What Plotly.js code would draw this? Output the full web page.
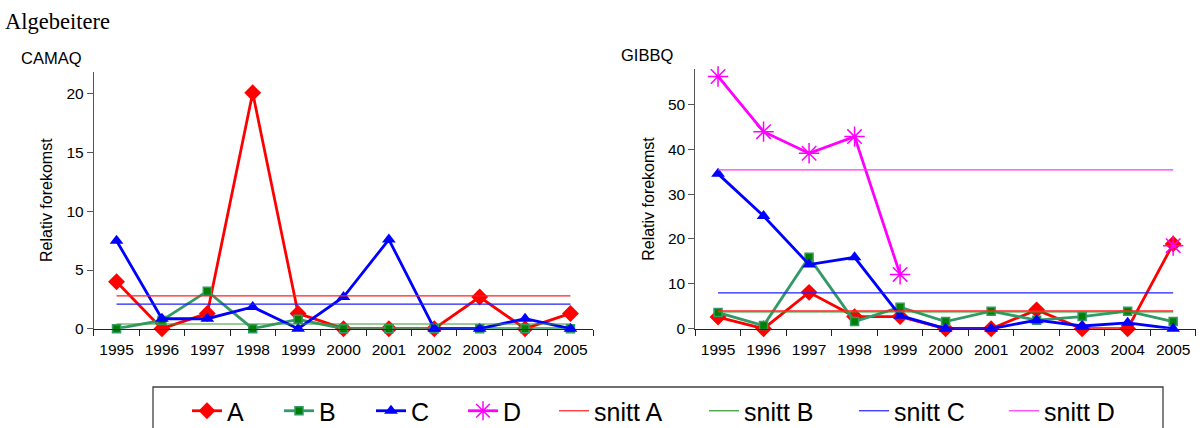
<!DOCTYPE html>
<html>
<head>
<meta charset="utf-8">
<script src="https://cdn.plot.ly/plotly-3.0.1.min.js"></script>
<style>html,body{margin:0;padding:0;background:#fff;}#chart{width:1200px;height:428px;}</style>
</head>
<body>
<div id="chart"></div>
<script>
// ---- data ----
const years = ['1995','1996','1997','1998','1999','2000','2001','2002','2003','2004','2005'];

// CAMAQ panel
const camaqA = [4.0, 0, 1.3, 20.1, 1.3, 0, 0, 0, 2.7, 0, 1.3];
const camaqB = [0, 0.7, 3.2, 0, 0.8, 0, 0, 0, 0, 0, 0];
const camaqC = [7.5, 0.85, 0.85, 1.85, 0, 2.7, 7.6, 0, 0, 0.85, 0];
const camaqSnitt = [2.8, 0.4, 2.1];          // snitt A, snitt B, snitt C

// GIBBQ panel
const gibbqA = [2.6, 0, 8.1, 2.7, 2.7, 0, 0, 4.2, 0, 0, 18.9];
const gibbqB = [3.6, 0.7, 15.9, 1.6, 4.8, 1.6, 3.9, 1.9, 2.7, 3.9, 1.6];
const gibbqC = [34.5, 25.1, 14.3, 15.9, 2.9, 0, 0, 1.9, 0.6, 1.3, 0];
const gibbqD = [56.2, 43.9, 39.1, 42.8, 12.1, null, null, null, null, null, 18.5];
const gibbqSnitt = [3.95, 3.75, 8.0, 35.4];  // snitt A, B, C, D

const seriesNames = ['A', 'B', 'C', 'D'];
const snittNames = ['snitt A', 'snitt B', 'snitt C', 'snitt D'];

// ---- styles ----
const FONT = 'Liberation Sans, Arial, sans-serif';
const lineCol = ['#FF0000', '#339966', '#0000FF', '#FF00FF'];
const snittCol = ['#FF2020', '#339933', '#2020FF', '#FF33FF'];
const markers = [
  {symbol: 'diamond', size: 13, color: '#FF0000', line: {width: 0}},
  {symbol: 'square', size: 8, color: '#008000', line: {color: '#339966', width: 1.5}},
  {symbol: 'triangle-up', size: 12, color: '#0000FF', line: {width: 0}},
  {symbol: 'asterisk-open', size: 17, color: '#FF00FF', line: {color: '#FF00FF', width: 1.5}}
];

function dataTrace(vals, i, xa, ya, show) {
  return {
    type: 'scatter', mode: 'lines+markers', x: years, y: vals,
    name: seriesNames[i], xaxis: xa, yaxis: ya, showlegend: show,
    legendgroup: seriesNames[i], legend: 'legend',
    line: {color: lineCol[i], width: 2.8}, marker: markers[i],
    connectgaps: false, cliponaxis: false
  };
}
function snittTrace(v, i, xa, ya, show) {
  return {
    type: 'scatter', mode: 'lines', x: [years[0], years[years.length - 1]], y: [v, v],
    name: snittNames[i], xaxis: xa, yaxis: ya, showlegend: show,
    legendgroup: snittNames[i], legend: 'legend2',
    line: {color: snittCol[i], width: 1.2}
  };
}

const traces = [];
[camaqA, camaqB, camaqC].forEach((v, i) => traces.push(dataTrace(v, i, 'x', 'y', false)));
camaqSnitt.forEach((v, i) => traces.push(snittTrace(v, i, 'x', 'y', false)));
[gibbqA, gibbqB, gibbqC, gibbqD].forEach((v, i) => traces.push(dataTrace(v, i, 'x2', 'y2', true)));
gibbqSnitt.forEach((v, i) => traces.push(snittTrace(v, i, 'x2', 'y2', true)));

function xAxis(domain, anchor) {
  return {
    domain: domain, anchor: anchor, type: 'category', categoryorder: 'array', categoryarray: years,
    range: [-0.5, years.length - 0.5], showgrid: false, zeroline: false,
    showline: true, linecolor: '#222', linewidth: 1,
    ticks: 'outside', tickson: 'boundaries', ticklen: 6, tickcolor: '#222', tickwidth: 1,
    ticklabelstandoff: 7, tickangle: 0,
    tickfont: {family: FONT, size: 15.5, color: '#000'}, fixedrange: true
  };
}
function yAxis(domain, anchor, range, dtick, standoff) {
  return {
    domain: domain, anchor: anchor, range: range, dtick: dtick, showgrid: false, zeroline: false,
    showline: true, linecolor: '#555', linewidth: 1,
    ticks: 'outside', ticklen: 6, tickcolor: '#555', tickwidth: 1,
    tickfont: {family: FONT, size: 15.5, color: '#000'},
    title: {text: 'Relativ forekomst', font: {family: FONT, size: 16, color: '#000'}, standoff: standoff},
    fixedrange: true
  };
}

const layout = {
  width: 1200, height: 428,
  margin: {l: 0, r: 0, t: 0, b: 0, pad: 0, autoexpand: false},
  paper_bgcolor: '#fff', plot_bgcolor: 'rgba(0,0,0,0)',
  font: {family: FONT, color: '#000'},
  xaxis: xAxis([0.0782, 0.4943], 'y'),
  yaxis: yAxis([0.2320, 0.8325], 'x', [0, 21.9], 5, 9),
  xaxis2: xAxis([0.5794, 0.9966], 'y2'),
  yaxis2: yAxis([0.2320, 0.8381], 'x2', [0, 57.8], 10, 9),
  legend: {
    orientation: 'h', x: 187 / 1200, xanchor: 'left', y: (428 - 388) / 428, yanchor: 'top',
    font: {family: FONT, size: 25, color: '#000'}, bgcolor: 'rgba(0,0,0,0)', borderwidth: 0,
    entrywidth: 47, entrywidthmode: 'pixels', traceorder: 'normal'
  },
  legend2: {
    orientation: 'h', x: 554 / 1200, xanchor: 'left', y: (428 - 388) / 428, yanchor: 'top',
    font: {family: FONT, size: 25, color: '#000'}, bgcolor: 'rgba(0,0,0,0)', borderwidth: 0,
    entrywidth: 105, entrywidthmode: 'pixels', traceorder: 'normal'
  },
  shapes: [{
    type: 'rect', xref: 'paper', yref: 'paper',
    x0: 153 / 1200, x1: 1163 / 1200, y0: -0.1, y1: (428 - 387) / 428,
    line: {color: '#404040', width: 1.3}, fillcolor: 'rgba(0,0,0,0)', layer: 'below'
  }],
  annotations: [
    {text: 'Algebeitere', xref: 'paper', yref: 'paper', x: 3 / 1200, y: (428 - 21) / 428,
     xanchor: 'left', yanchor: 'middle', showarrow: false,
     font: {family: 'Liberation Serif, Times New Roman, serif', size: 22.5, color: '#000'}},
    {text: 'CAMAQ', xref: 'paper', yref: 'paper', x: 19 / 1200, y: (428 - 58) / 428,
     xanchor: 'left', yanchor: 'middle', showarrow: false,
     font: {family: FONT, size: 16.5, color: '#000'}},
    {text: 'GIBBQ', xref: 'paper', yref: 'paper', x: 619 / 1200, y: (428 - 55) / 428,
     xanchor: 'left', yanchor: 'middle', showarrow: false,
     font: {family: FONT, size: 16.5, color: '#000'}}
  ]
};

Plotly.newPlot('chart', traces, layout, {staticPlot: true, displayModeBar: false});
</script>
</body>
</html>
